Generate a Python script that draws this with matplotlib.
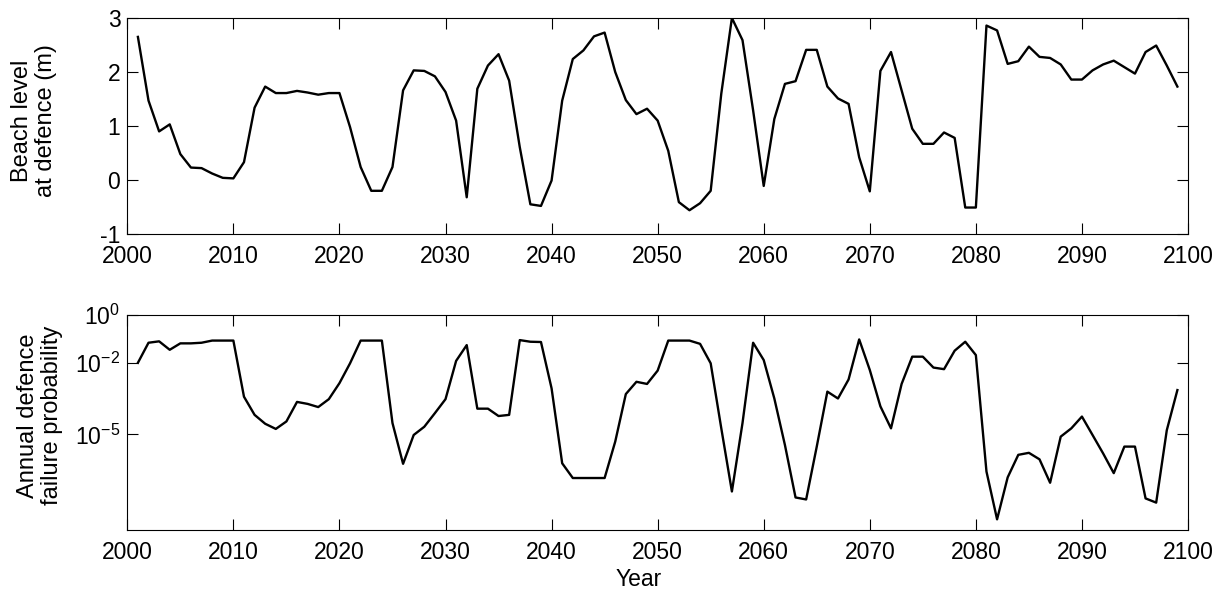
import matplotlib
matplotlib.use("Agg")
import matplotlib.pyplot as plt
import numpy as np

years = list(range(2001, 2100))

beach_level = [
    2.65, 1.47, 0.90, 1.03, 0.48, 0.23, 0.22, 0.12, 0.04, 0.03,
    0.33, 1.34, 1.73, 1.61, 1.61, 1.65, 1.62, 1.58, 1.61, 1.61,
    0.98, 0.24, -0.20, -0.20, 0.24, 1.66, 2.03, 2.02, 1.92, 1.63,
    1.10, -0.32, 1.69, 2.12, 2.33, 1.84, 0.61, -0.45, -0.48, -0.01,
    1.47, 2.24, 2.40, 2.66, 2.73, 2.00, 1.48, 1.22, 1.32, 1.10,
    0.54, -0.41, -0.56, -0.43, -0.20, 1.60, 3.00, 2.59, 1.29, -0.11,
    1.13, 1.78, 1.83, 2.41, 2.41, 1.73, 1.51, 1.41, 0.42, -0.21,
    2.02, 2.37, 1.66, 0.95, 0.67, 0.67, 0.88, 0.78, -0.51, -0.51,
    2.86, 2.77, 2.15, 2.20, 2.47, 2.28, 2.26, 2.14, 1.86, 1.86,
    2.03, 2.14, 2.21, 2.09, 1.97, 2.37, 2.49, 2.12, 1.73,
]

failure_prob = [
    1.0e-2, 6.9e-2, 7.9e-2, 3.5e-2, 6.5e-2, 6.5e-2, 6.9e-2, 8.5e-2, 8.5e-2, 8.5e-2,
    3.8e-4, 6.6e-5, 2.8e-5, 1.7e-5, 3.5e-5, 2.3e-4, 1.9e-4, 1.4e-4, 3.0e-4, 1.4e-3,
    9.5e-3, 8.5e-2, 8.5e-2, 8.5e-2, 3.0e-5, 5.9e-7, 9.5e-6, 2.1e-5, 7.8e-5, 3.0e-4,
    1.2e-2, 5.5e-2, 1.2e-4, 1.2e-4, 5.9e-5, 6.6e-5, 8.9e-2, 7.6e-2, 7.4e-2, 8.5e-4,
    6.2e-7, 1.5e-7, 1.5e-7, 1.5e-7, 1.5e-7, 5.0e-6, 4.9e-4, 1.6e-3, 1.3e-3, 4.7e-3,
    8.5e-2, 8.5e-2, 8.5e-2, 6.2e-2, 9.5e-3, 1.8e-5, 4.1e-8, 3.0e-5, 6.9e-2, 1.3e-2,
    3.2e-4, 3.6e-6, 2.3e-8, 1.9e-8, 3.1e-6, 6.2e-4, 3.2e-4, 2.0e-3, 9.5e-2, 5.0e-3,
    1.5e-4, 1.8e-5, 1.3e-3, 1.8e-2, 1.8e-2, 6.3e-3, 5.4e-3, 3.2e-2, 7.6e-2, 2.1e-2,
    2.8e-7, 2.8e-9, 1.6e-7, 1.4e-6, 1.7e-6, 9.1e-7, 9.5e-8, 8.1e-6, 1.8e-5, 5.6e-5,
    9.5e-6, 1.6e-6, 2.4e-7, 3.1e-6, 3.1e-6, 2.1e-8, 1.4e-8, 1.5e-5, 7.2e-4,
]

x_ticks = list(range(2000, 2101, 10))
top_yticks = [-1, 0, 1, 2, 3]
bottom_yticks = [1e0, 1e-2, 1e-5]
bottom_yticklabels = [r"$\mathregular{10^{0}}$", r"$\mathregular{10^{-2}}$", r"$\mathregular{10^{-5}}$"]

plt.rcParams["font.family"] = ["Liberation Sans", "DejaVu Sans"]
plt.rcParams["mathtext.fontset"] = "custom"
plt.rcParams["mathtext.rm"] = "Liberation Sans"
plt.rcParams["axes.unicode_minus"] = False

fig = plt.figure(figsize=(12.27, 5.95), dpi=100)
W, H = 1227, 595
ax1 = fig.add_axes([127.3 / W, 1 - 234 / H, 1060.7 / W, 216 / H])
ax2 = fig.add_axes([127.3 / W, 1 - 530 / H, 1060.7 / W, 215 / H])

tick_fs = 16.5
label_fs = 17

for ax in (ax1, ax2):
    ax.set_xlim(2000, 2100)
    ax.set_xticks(x_ticks)
    ax.tick_params(direction="in", length=8, width=0.8, top=True, right=True,
                   labelsize=tick_fs, colors="black")
    ax.tick_params(axis="x", pad=8)
    ax.tick_params(axis="y", pad=5)
    for s in ax.spines.values():
        s.set_linewidth(0.8)
        s.set_color("black")

ax1.plot(years, beach_level, color="black", linewidth=1.7)
ax1.set_ylim(-1, 3)
ax1.set_yticks(top_yticks)
ax1.set_ylabel("Beach level\nat defence (m)", fontsize=label_fs, linespacing=1.1)
ax1.yaxis.set_label_coords(-0.0663, 0.523)

ax2.plot(years, failure_prob, color="black", linewidth=1.7)
ax2.set_yscale("log")
ax2.set_ylim(1e-9, 1e0)
ax2.set_yticks(bottom_yticks)
ax2.set_yticklabels(bottom_yticklabels)
ax2.yaxis.set_minor_locator(matplotlib.ticker.NullLocator())
ax2.set_ylabel("Annual defence\nfailure probability", fontsize=label_fs, linespacing=1.1)
ax2.yaxis.set_label_coords(-0.0606, 0.533)
ax2.set_xlabel("Year", fontsize=tick_fs)
ax2.xaxis.set_label_coords((639 - 127.3) / 1060.7, -0.175)

fig.savefig("out.png", dpi=100)
